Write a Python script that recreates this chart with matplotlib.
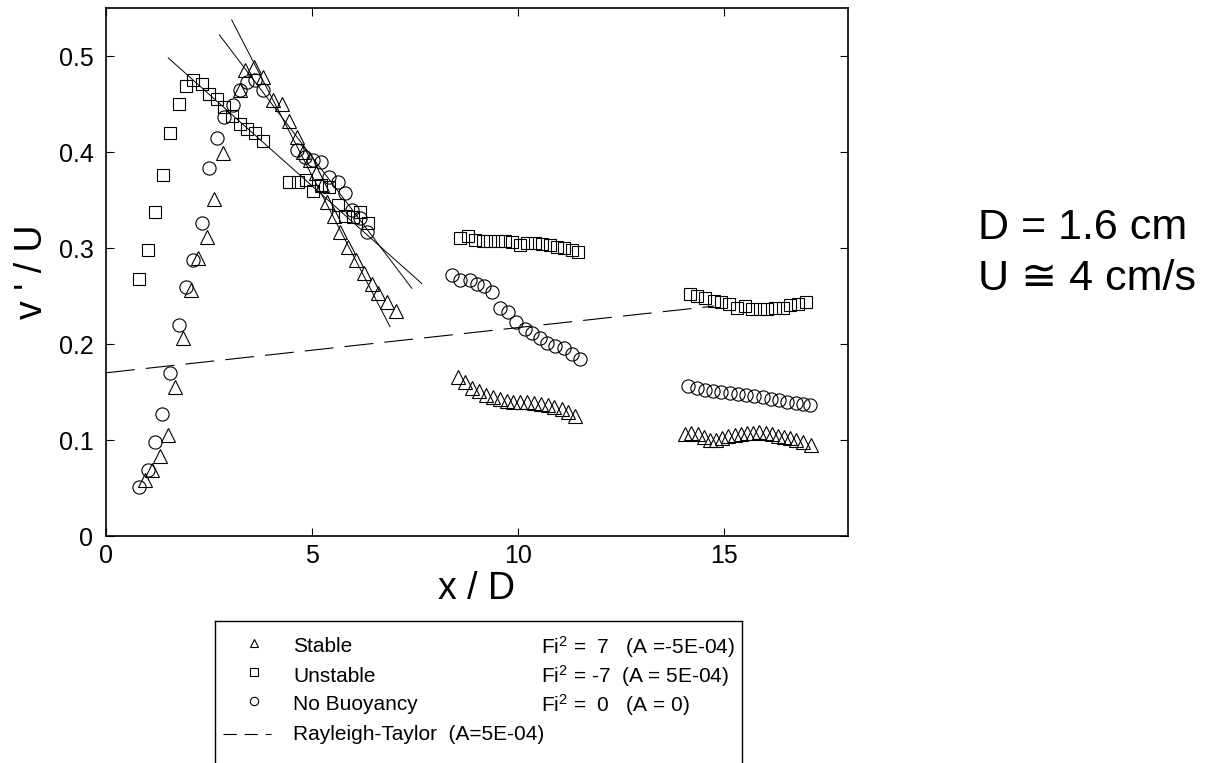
import matplotlib
matplotlib.use("Agg")
import matplotlib.pyplot as plt
from matplotlib.lines import Line2D
from matplotlib.ticker import FuncFormatter

plt.rcParams['font.family'] = ['Liberation Sans', 'DejaVu Sans']
plt.rcParams['mathtext.fontset'] = 'custom'
plt.rcParams['mathtext.rm'] = 'Liberation Sans'
plt.rcParams['mathtext.it'] = 'Liberation Sans'

# ---------------- data ----------------
stable_x = [0.95, 1.11, 1.31, 1.51, 1.67, 1.88, 2.06, 2.24, 2.44, 2.63, 2.85, 3.24, 3.37, 3.58,
            3.82, 4.06, 4.26, 4.45, 4.63, 4.79, 4.95, 5.10, 5.24, 5.36, 5.52, 5.68, 5.88, 6.07,
            6.25, 6.45, 6.61, 6.81, 7.04,
            8.55, 8.72, 8.88, 9.05, 9.22, 9.38, 9.55, 9.72, 9.88, 10.05, 10.22, 10.38, 10.55,
            10.72, 10.88, 11.05, 11.20, 11.38,
            14.05, 14.20, 14.35, 14.50, 14.65, 14.80, 14.95, 15.10, 15.25, 15.40, 15.55, 15.70,
            15.85, 16.00, 16.15, 16.30, 16.45, 16.60, 16.75, 16.90, 17.10]
stable_y = [0.058, 0.069, 0.083, 0.105, 0.155, 0.206, 0.256, 0.290, 0.311, 0.351, 0.399, 0.465,
            0.485, 0.489, 0.478, 0.454, 0.450, 0.432, 0.416, 0.400, 0.392, 0.378, 0.366, 0.348,
            0.333, 0.317, 0.301, 0.288, 0.274, 0.263, 0.253, 0.244, 0.234,
            0.166, 0.160, 0.154, 0.151, 0.147, 0.145, 0.143, 0.141, 0.140, 0.140, 0.140, 0.139,
            0.138, 0.136, 0.134, 0.132, 0.129, 0.125,
            0.106, 0.107, 0.106, 0.103, 0.100, 0.100, 0.102, 0.104, 0.105, 0.106, 0.107, 0.107,
            0.108, 0.107, 0.106, 0.104, 0.103, 0.102, 0.100, 0.098, 0.095]

unstable_x = [0.81, 1.01, 1.19, 1.38, 1.55, 1.76, 1.94, 2.12, 2.32, 2.51, 2.69, 2.86, 3.05,
              3.25, 3.43, 3.62, 3.82,
              4.45, 4.65, 4.85, 5.03, 5.22, 5.42, 5.62, 5.80, 5.98, 6.17, 6.35,
              8.59, 8.78, 8.96, 9.14, 9.32, 9.50, 9.68, 9.86, 10.04, 10.22, 10.40, 10.58,
              10.76, 10.94, 11.12, 11.30, 11.46,
              14.16, 14.34, 14.54, 14.74, 14.92, 15.12, 15.31, 15.49, 15.67, 15.86, 16.04,
              16.24, 16.42, 16.60, 16.79, 16.97]
unstable_y = [0.268, 0.298, 0.338, 0.376, 0.420, 0.450, 0.469, 0.475, 0.471, 0.460, 0.455,
              0.447, 0.437, 0.429, 0.424, 0.420, 0.411,
              0.369, 0.369, 0.371, 0.359, 0.366, 0.364, 0.345, 0.333, 0.332, 0.338, 0.326,
              0.310, 0.313, 0.308, 0.307, 0.307, 0.307, 0.307, 0.306, 0.303, 0.305, 0.305,
              0.304, 0.303, 0.301, 0.300, 0.298, 0.296,
              0.252, 0.250, 0.248, 0.245, 0.244, 0.242, 0.238, 0.240, 0.236, 0.236, 0.236,
              0.238, 0.238, 0.241, 0.242, 0.244]

nobuoy_x = [0.81, 1.03, 1.19, 1.37, 1.55, 1.77, 1.94, 2.12, 2.32, 2.51, 2.69, 2.86, 3.07,
            3.25, 3.42, 3.62, 3.82,
            4.63, 4.83, 5.03, 5.21, 5.41, 5.62, 5.80, 5.96, 6.17, 6.34,
            8.39, 8.59, 8.82, 9.00, 9.16, 9.36, 9.56, 9.76, 9.95, 10.17, 10.33, 10.52,
            10.70, 10.90, 11.10, 11.30, 11.49,
            14.13, 14.33, 14.53, 14.73, 14.93, 15.13, 15.33, 15.53, 15.73, 15.93, 16.13,
            16.33, 16.53, 16.73, 16.90, 17.07]
nobuoy_y = [0.051, 0.069, 0.098, 0.127, 0.170, 0.220, 0.259, 0.288, 0.326, 0.383, 0.415,
            0.436, 0.449, 0.465, 0.473, 0.475, 0.465,
            0.402, 0.395, 0.392, 0.390, 0.374, 0.369, 0.357, 0.340, 0.331, 0.317,
            0.272, 0.267, 0.267, 0.262, 0.260, 0.254, 0.238, 0.233, 0.223, 0.216, 0.211,
            0.206, 0.201, 0.198, 0.196, 0.190, 0.184,
            0.156, 0.154, 0.152, 0.151, 0.150, 0.149, 0.148, 0.147, 0.146, 0.145, 0.143,
            0.142, 0.140, 0.139, 0.137, 0.136]

# linear fits in the near field
fit_unstable_x = [1.51, 7.66]
fit_unstable_y = [0.498, 0.263]
fit_nobuoy_x = [2.75, 7.42]
fit_nobuoy_y = [0.522, 0.258]
fit_stable_x = [3.05, 6.89]
fit_stable_y = [0.5375, 0.218]

# Rayleigh-Taylor prediction
rt_x = [0.0, 14.75]
rt_y = [0.170, 0.2395]

x_ticks = [0, 5, 10, 15]
y_ticks = [0, 0.1, 0.2, 0.3, 0.4, 0.5]

legend_names = ['Stable', 'Unstable', 'No Buoyancy']
legend_params = [r'Fi$^2$ =  7   (A =-5E-04)', r'Fi$^2$ = -7  (A = 5E-04)',
                 r'Fi$^2$ =  0   (A = 0)']
rt_label = 'Rayleigh-Taylor  (A=5E-04)'

# ---------------- figure ----------------
W, H = 1219, 763
fig = plt.figure(figsize=(W / 100, H / 100), dpi=100)
ax = fig.add_axes([106 / W, 1 - 536 / H, 742 / W, 528 / H])

mk = dict(linestyle='none', markerfacecolor='none', markeredgecolor='black',
          markeredgewidth=0.8)
ax.plot(stable_x, stable_y, marker='^', markersize=10, **mk)
ax.plot(unstable_x, unstable_y, marker='s', markersize=9, **mk)
ax.plot(nobuoy_x, nobuoy_y, marker='o', markersize=9.5, **mk)

for fx, fy in [(fit_unstable_x, fit_unstable_y), (fit_nobuoy_x, fit_nobuoy_y),
               (fit_stable_x, fit_stable_y)]:
    ax.plot(fx, fy, color='black', linewidth=0.7)

ax.plot(rt_x, rt_y, color='black', linewidth=0.8, dashes=(26, 10))

ax.set_xlim(0, 18)
ax.set_ylim(0, 0.55)
ax.set_xticks(x_ticks)
ax.set_yticks(y_ticks)
ax.yaxis.set_major_formatter(FuncFormatter(lambda v, p: '%g' % v))
ax.xaxis.set_major_formatter(FuncFormatter(lambda v, p: '%g' % v))
ax.tick_params(direction='in', length=6, width=0.8, top=True, right=True,
               labelsize=18)
ax.tick_params(axis='y', pad=9)
ax.tick_params(axis='x', pad=6)
for s in ax.spines.values():
    s.set_linewidth(1.2)
ax.set_xlabel('x / D', fontsize=27, labelpad=2)
ax.set_ylabel("v ' / U", fontsize=27, labelpad=6)

fig.text(978 / W, 1 - 228 / H, 'D = 1.6 cm', fontsize=31, va='center', ha='left')
fig.text(978 / W, 1 - 279 / H, 'U \u2245 4 cm/s', fontsize=31, va='center', ha='left')

# ---------------- legend (manual box) ----------------
lx0, lx1, ly0, ly1 = 215, 742, 621, 800
lax = fig.add_axes([lx0 / W, 1 - ly1 / H, (lx1 - lx0) / W, (ly1 - ly0) / H])
lax.set_xlim(0, lx1 - lx0)
lax.set_ylim(ly1 - ly0, 0)
lax.set_xticks([])
lax.set_yticks([])
for s in lax.spines.values():
    s.set_linewidth(1.0)
rows = [26, 55, 84, 113]
markers = ['^', 's', 'o']
for r, m, name, par in zip(rows, markers, legend_names, legend_params):
    lax.add_line(Line2D([39], [r - 4], marker=m, markersize=6, **mk))
    lax.text(78, r, name, fontsize=15, va='center', ha='left')
    lax.text(326, r, par, fontsize=15, va='center', ha='left')
lax.add_line(Line2D([8, 56], [rows[3], rows[3]], color='black', linewidth=0.8,
                    dashes=(12, 7)))
lax.text(78, rows[3], rt_label, fontsize=15, va='center', ha='left')

fig.savefig('out.png', dpi=100)
